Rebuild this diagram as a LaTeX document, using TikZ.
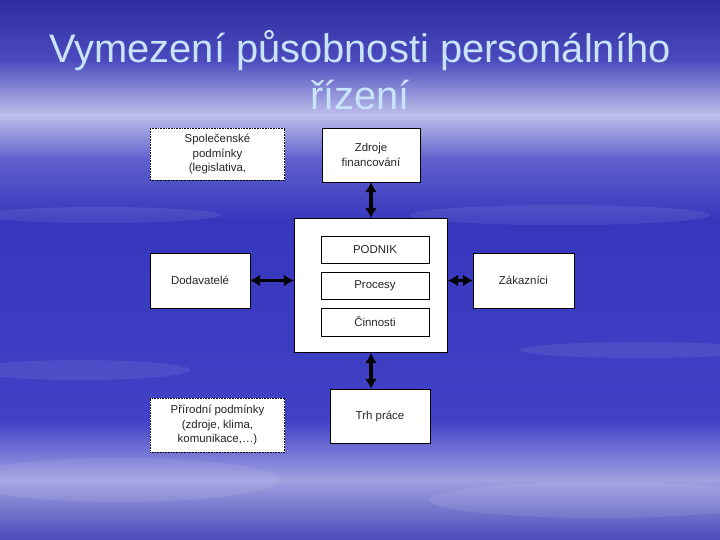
\documentclass[tikz,border=0pt]{standalone}
\usepackage{fontspec}
\setmainfont{Liberation Sans}
\usetikzlibrary{calc,shapes,arrows,arrows.meta}

\definecolor{titleblue}{RGB}{200,228,250}
\definecolor{skyA}{RGB}{45,45,160}
\definecolor{skyB}{RGB}{75,75,190}
\definecolor{skyC}{RGB}{190,190,235}
\definecolor{skyD}{RGB}{95,95,205}
\definecolor{skyE}{RGB}{55,55,190}
\definecolor{skyF}{RGB}{65,65,198}
\definecolor{skyG}{RGB}{160,160,225}
\definecolor{skyH}{RGB}{75,75,185}

\tikzset{
  box/.style={draw=black, fill=white, line width=0.6pt, align=center,
    text=black!85, font=\fontsize{11.5}{15}\selectfont, inner sep=0pt},
  dotbox/.style={box, densely dotted},
  arr/.style={{Latex[length=10bp,width=12bp]}-{Latex[length=10bp,width=12bp]},
    line width=3.5bp, black},
  cloud/.style={white, opacity=0.08}
}

\begin{document}
\begin{tikzpicture}[x=1bp,y=-1bp]
    \useasboundingbox (0,0) rectangle (720,540);
    % background sky
    \shade[top color=skyA, bottom color=skyB] (0,0) rectangle (720,60);
    \shade[top color=skyB, bottom color=skyC] (0,60) rectangle (720,115);
    \shade[top color=skyC, bottom color=skyD] (0,115) rectangle (720,160);
    \shade[top color=skyD, bottom color=skyE] (0,160) rectangle (720,220);
    \shade[top color=skyE, bottom color=skyF] (0,220) rectangle (720,420);
    \shade[top color=skyF, bottom color=skyG] (0,420) rectangle (720,480);
    \shade[top color=skyG, bottom color=skyH] (0,480) rectangle (720,540);
    \foreach \cx/\cy/\rx/\ry in {120/480/160/22, 600/500/170/18, 80/370/110/10,
        640/350/120/8, 560/215/150/10, 100/215/120/8}
    \fill[cloud] (\cx,\cy) ellipse ({\rx} and {\ry});

    % title
    \node[text=titleblue, font=\fontsize{40}{47}\selectfont, align=center]
        (title) at (360,70) {Vymezení působnosti personálního\\řízení};

    % outer boxes
    \node[dotbox, minimum width=135, minimum height=52] (spol) at (217.5,154)
        {Společenské\\podmínky\\(legislativa,};
    \node[box, minimum width=98, minimum height=54] (zdroje) at (371,155)
        {Zdroje\\financování};
    \node[box, minimum width=100, minimum height=55] (dodav) at (200,280.5)
        {Dodavatelé};
    \node[box, minimum width=101, minimum height=55] (zak) at (523.5,280.5)
        {Zákazníci};
    \node[dotbox, minimum width=135, minimum height=54] (prir) at (217.5,425)
        {Přírodní podmínky\\(zdroje, klima,\\komunikace,\dots)};
    \node[box, minimum width=100, minimum height=54] (trh) at (380,416)
        {Trh práce};

    % podnik
    \node[box, minimum width=154, minimum height=135] (firma) at (371,285.5) {};
    \node[box, minimum width=108, minimum height=27] (podnik) at (375,249.5) {PODNIK};
    \node[box, minimum width=108, minimum height=27] (procesy) at (375,285.5) {Procesy};
    \node[box, minimum width=108, minimum height=28] (cinnosti) at (375,322) {Činnosti};

    % arrows
    \draw[arr] (zdroje.south) -- (firma.north);
    \draw[arr] (firma.south) -- (firma.south |- trh.north);
    \draw[arr] (dodav.east) -- (dodav.east -| firma.west);
    \draw[arr] (firma.east |- zak.west) -- (zak.west);
\end{tikzpicture}
\end{document}
